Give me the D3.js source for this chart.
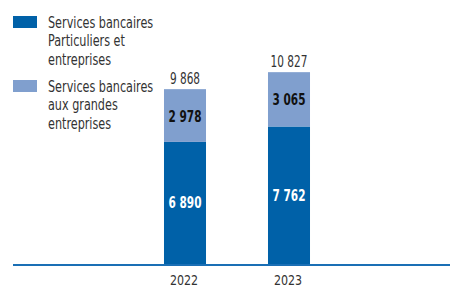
<!DOCTYPE html>
<html>
<head>
<meta charset="utf-8">
<script src="https://cdn.jsdelivr.net/npm/d3@7"></script>
<style>
  body { margin: 0; background: #fff; }
  svg text { font-family: "DejaVu Sans Condensed", "DejaVu Sans", sans-serif; fill: #333; }
</style>
</head>
<body>
<script>
// data
const years = ['2022', '2023'];
const particuliers = [6890, 7762];
const grandes = [2978, 3065];
const totals = [9868, 10827];
const seriesNames = [
  ['Services bancaires', 'Particuliers et', 'entreprises'],
  ['Services bancaires', 'aux grandes', 'entreprises']
];

const width = 450, height = 288;
const darkBlue = '#0061a8', lightBlue = '#809fce';
const squeeze = 0.78; // no narrow font installed, squash text horizontally

const svg = d3.select('body').append('svg')
  .attr('width', width)
  .attr('height', height);

const x = d3.scaleBand()
  .domain(years)
  .range([133, 341])
  .paddingInner(0.596)
  .paddingOuter(0.298);

const y = d3.scaleLinear()
  .domain([0, 14900])
  .range([264, 0]);

const rows = years.map((yr, i) => ({ yr, a: particuliers[i], b: grandes[i], t: totals[i] }));
const cx = d => x(d.yr) + x.bandwidth() / 2;
const place = (px, py) => `translate(${px},${py}) scale(${squeeze},1)`;

// bottom segment
svg.selectAll('.bar-a')
  .data(rows)
  .enter().append('rect')
  .attr('x', d => x(d.yr))
  .attr('width', x.bandwidth())
  .attr('y', d => y(d.a))
  .attr('height', d => y(0) - y(d.a))
  .style('fill', darkBlue);

// top segment
svg.selectAll('.bar-b')
  .data(rows)
  .enter().append('rect')
  .attr('x', d => x(d.yr))
  .attr('width', x.bandwidth())
  .attr('y', d => y(d.a + d.b))
  .attr('height', d => y(d.a) - y(d.a + d.b))
  .style('fill', lightBlue);

const fmt = v => d3.format(',')(v).replace(/,/g, '\u00a0');

// segment labels
svg.selectAll('.lab-a')
  .data(rows)
  .enter().append('text')
  .attr('transform', d => place(cx(d), (y(0) + y(d.a)) / 2 + 5.5))
  .attr('text-anchor', 'middle')
  .style('font-size', '15px')
  .style('font-weight', 'bold')
  .style('fill', '#fff')
  .text(d => fmt(d.a));

svg.selectAll('.lab-b')
  .data(rows)
  .enter().append('text')
  .attr('transform', d => place(cx(d), (y(d.a) + y(d.a + d.b)) / 2 + 6))
  .attr('text-anchor', 'middle')
  .style('font-size', '15px')
  .style('font-weight', 'bold')
  .style('fill', '#111')
  .text(d => fmt(d.b));

// totals
svg.selectAll('.lab-t')
  .data(rows)
  .enter().append('text')
  .attr('transform', d => place(cx(d), y(d.t) - 5))
  .attr('text-anchor', 'middle')
  .style('font-size', '15px')
  .text(d => fmt(d.t));

// axis line
svg.append('line')
  .attr('x1', 13).attr('x2', 450)
  .attr('y1', y(0) + 1).attr('y2', y(0) + 1)
  .style('stroke', '#1a6fb5')
  .style('stroke-width', 2);

// year labels
const xAxis = svg.append('g')
  .attr('transform', `translate(0, ${y(0)})`)
  .call(d3.axisBottom(x).tickSize(0));
xAxis.select('.domain').remove();
xAxis.selectAll('text')
  .attr('y', null)
  .attr('dy', null)
  .attr('transform', 'translate(-1,21) scale(0.88,1)')
  .style('font-family', '"DejaVu Sans Condensed", "DejaVu Sans", sans-serif')
  .style('font-size', '14px')
  .style('fill', '#333');

// legend
const legend = svg.append('g');
const legendColors = [darkBlue, lightBlue];
const legendTops = [16, 80];
seriesNames.forEach((lines, i) => {
  legend.append('rect')
    .attr('x', 13).attr('y', legendTops[i])
    .attr('width', 24).attr('height', 12)
    .style('fill', legendColors[i]);
  const t = legend.append('text')
    .attr('transform', place(48, legendTops[i] + 12))
    .style('font-size', '16px');
  lines.forEach((ln, j) => {
    t.append('tspan')
      .attr('x', 0)
      .attr('dy', j === 0 ? 0 : 18.5)
      .text(ln);
  });
});
</script>
</body>
</html>
